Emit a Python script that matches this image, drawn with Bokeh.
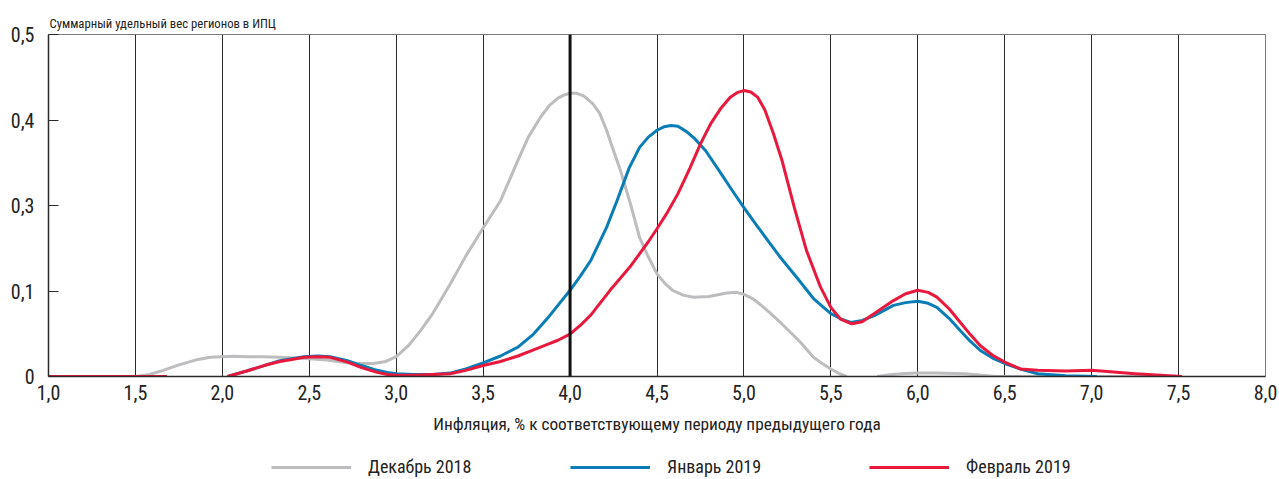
from bokeh.plotting import figure
from bokeh.layouts import column
from bokeh.models import Range1d, FixedTicker, Span, Legend, LegendItem
from bokeh.embed import file_html
from bokeh.resources import INLINE

nan = float("nan")

title_text = "Суммарный удельный вес регионов в ИПЦ"
x_label = "Инфляция, % к соответствующему периоду предыдущего года"

x_ticks = [1.0, 1.5, 2.0, 2.5, 3.0, 3.5, 4.0, 4.5, 5.0, 5.5, 6.0, 6.5, 7.0, 7.5, 8.0]
x_tick_labels = ["1,0", "1,5", "2,0", "2,5", "3,0", "3,5", "4,0", "4,5", "5,0",
                 "5,5", "6,0", "6,5", "7,0", "7,5", "8,0"]
y_ticks = [0, 0.125, 0.25, 0.375, 0.5]
y_tick_labels = ["0", "0,1", "0,3", "0,4", "0,5"]
target_inflation = 4.0

series_names = ["Декабрь 2018", "Январь 2019", "Февраль 2019"]

dec_x = [1.0, 1.5, 1.58, 1.66, 1.75, 1.86, 1.93, 2.0, 2.07, 2.14, 2.23, 2.33, 2.42,
         2.5, 2.6, 2.72, 2.8, 2.87, 2.94, 3.0, 3.07, 3.14, 3.21, 3.31, 3.4, 3.5,
         3.6, 3.7, 3.76, 3.83, 3.88, 3.93, 3.97, 4.0, 4.04, 4.08, 4.13, 4.17, 4.21,
         4.25, 4.29, 4.35, 4.4, 4.45, 4.5, 4.55, 4.59, 4.65, 4.71, 4.8, 4.9, 4.96,
         5.0, 5.05, 5.1, 5.15, 5.21, 5.27, 5.325, 5.4, 5.45, 5.5, 5.55, 5.59,
         nan, 5.766, 5.85, 5.93, 6.0, 6.1, 6.27, 6.45, 7.0, 7.5]
dec_y = [0.0, 0.0, 0.003, 0.009, 0.017, 0.025, 0.028, 0.029, 0.0295, 0.029, 0.029,
         0.028, 0.027, 0.026, 0.024, 0.020, 0.019, 0.019, 0.022, 0.029, 0.045,
         0.067, 0.092, 0.135, 0.176, 0.217, 0.257, 0.316, 0.35, 0.379, 0.396,
         0.407, 0.412, 0.414, 0.414, 0.41, 0.399, 0.385, 0.36, 0.33, 0.301, 0.25,
         0.203, 0.175, 0.15, 0.135, 0.126, 0.119, 0.116, 0.117, 0.122, 0.123,
         0.12, 0.114, 0.104, 0.093, 0.079, 0.064, 0.05, 0.028, 0.019, 0.011,
         0.004, 0.0,
         nan, 0.0, 0.003, 0.0045, 0.005, 0.005, 0.004, 0.0, 0.0, 0.0]

jan_x = [1.0, 1.68, nan, 2.03, 2.14, 2.24, 2.33, 2.4, 2.47, 2.55, 2.62, 2.72, 2.8,
         2.89, 2.95, 3.0, 3.1, 3.21, 3.31, 3.4, 3.5, 3.6, 3.7, 3.79, 3.87, 3.93,
         4.0, 4.06, 4.12, 4.21, 4.27, 4.34, 4.4, 4.45, 4.5, 4.54, 4.58, 4.62, 4.67,
         4.72, 4.78, 4.86, 4.93, 5.0, 5.07, 5.14, 5.21, 5.31, 5.4, 5.5, 5.56,
         5.615, 5.68, 5.75, 5.86, 5.93, 6.0, 6.06, 6.11, 6.18, 6.245, 6.3, 6.36,
         6.43, 6.5, 6.59, 6.69, 6.85, 7.03]
jan_y = [0.0, 0.0, nan, 0.0, 0.008, 0.016, 0.023, 0.026, 0.029, 0.030, 0.029,
         0.023, 0.016, 0.009, 0.006, 0.004, 0.003, 0.003, 0.005, 0.011, 0.020,
         0.030, 0.043, 0.062, 0.085, 0.104, 0.126, 0.147, 0.17, 0.218, 0.257,
         0.305, 0.335, 0.35, 0.36, 0.365, 0.367, 0.366, 0.358, 0.347, 0.33, 0.3,
         0.273, 0.247, 0.222, 0.198, 0.174, 0.143, 0.114, 0.092, 0.084, 0.079,
         0.082, 0.089, 0.104, 0.108, 0.11, 0.107, 0.101, 0.085, 0.067, 0.052,
         0.038, 0.027, 0.019, 0.011, 0.004, 0.001, 0.0]

feb_x = [1.0, 1.68, nan, 2.03, 2.14, 2.24, 2.33, 2.4, 2.47, 2.55, 2.62, 2.72, 2.8,
         2.89, 2.95, 3.0, 3.1, 3.21, 3.31, 3.4, 3.5, 3.6, 3.7, 3.79, 3.87, 3.93,
         4.0, 4.06, 4.12, 4.23, 4.35, 4.45, 4.5, 4.56, 4.62, 4.69, 4.75, 4.81,
         4.87, 4.92, 4.96, 5.0, 5.04, 5.08, 5.12, 5.17, 5.22, 5.29, 5.36, 5.44,
         5.5, 5.555, 5.62, 5.68, 5.75, 5.86, 5.93, 6.0, 6.06, 6.11, 6.18, 6.245,
         6.3, 6.36, 6.43, 6.5, 6.59, 6.69, 6.85, 7.0, 7.25, 7.52]
feb_y = [0.0, 0.0, nan, 0.0, 0.008, 0.016, 0.022, 0.025, 0.028, 0.029, 0.028,
         0.021, 0.013, 0.006, 0.003, 0.002, 0.002, 0.003, 0.004, 0.009, 0.016,
         0.022, 0.030, 0.039, 0.047, 0.053, 0.062, 0.075, 0.09, 0.126, 0.162,
         0.197, 0.216, 0.24, 0.267, 0.305, 0.34, 0.37, 0.393, 0.408, 0.415,
         0.418, 0.416, 0.408, 0.39, 0.355, 0.315, 0.247, 0.184, 0.131, 0.101,
         0.084, 0.077, 0.08, 0.092, 0.111, 0.121, 0.126, 0.123, 0.116, 0.099,
         0.079, 0.062, 0.045, 0.031, 0.021, 0.011, 0.009, 0.008, 0.009, 0.004,
         0.0]

series_x = [dec_x, jan_x, feb_x]
series_y = [dec_y, jan_y, feb_y]
colors = ["#bdbdbf", "#0a7db6", "#e8193c"]
FONT = "Roboto Condensed"
TEXT = "#222222"

p = figure(width=1279, height=440, output_backend="svg", toolbar_location=None,
           x_range=Range1d(1.0, 8.0), y_range=Range1d(0, 0.5),
           min_border_left=48, min_border_right=14, min_border_top=34,
           min_border_bottom=64)

p.title.text = title_text
p.title.align = "left"
p.title.text_font = FONT
p.title.text_font_size = "12.7px"
p.title.text_font_style = "normal"
p.title.text_color = TEXT
p.title.standoff = 7
p.title.offset = 1

p.outline_line_color = "#7a7a7a"
p.outline_line_width = 1

p.ygrid.grid_line_color = None
p.xgrid.ticker = FixedTicker(ticks=x_ticks)
p.xgrid.grid_line_color = "#2a2a2a"
p.xgrid.grid_line_width = 1

p.xaxis.ticker = FixedTicker(ticks=x_ticks)
p.xaxis.major_label_overrides = dict(zip(x_ticks, x_tick_labels))
p.xaxis.major_tick_line_color = None
p.xaxis.minor_tick_line_color = None
p.xaxis.axis_line_color = "#2a2a2a"
p.xaxis.axis_line_width = 1.5
p.xaxis.major_label_text_font = FONT
p.xaxis.major_label_text_font_size = "20px"
p.xaxis.major_label_text_color = TEXT
p.xaxis.major_label_standoff = 2
p.xaxis.axis_label = x_label
p.xaxis.axis_label_text_font = FONT
p.xaxis.axis_label_text_font_size = "17.3px"
p.xaxis.axis_label_text_font_style = "normal"
p.xaxis.axis_label_text_color = TEXT
p.xaxis.axis_label_standoff = 11

p.yaxis.ticker = FixedTicker(ticks=y_ticks)
p.yaxis.major_label_overrides = dict(zip(y_ticks, y_tick_labels))
p.yaxis.major_tick_in = 10
p.yaxis.major_tick_out = 0
p.yaxis.major_tick_line_color = "#2a2a2a"
p.yaxis.minor_tick_line_color = None
p.yaxis.axis_line_color = "#2a2a2a"
p.yaxis.axis_line_width = 1.5
p.yaxis.major_label_text_font = FONT
p.yaxis.major_label_text_font_size = "20px"
p.yaxis.major_label_text_color = TEXT
p.yaxis.major_label_standoff = 14

for xs, ys, c in zip(series_x, series_y, colors):
    p.line(xs, ys, line_color=c, line_width=3, line_join="round")

p.add_layout(Span(location=target_inflation, dimension="height",
                  line_color="#111111", line_width=3))

# legend strip below the chart: same series, drawn out of this strip's view
lg = figure(width=1279, height=39, output_backend="svg", toolbar_location=None,
            x_range=Range1d(1.0, 8.0), y_range=Range1d(5, 6),
            min_border_left=0, min_border_right=0, min_border_top=0,
            min_border_bottom=0, x_axis_location=None, y_axis_location=None)
lg.grid.grid_line_color = None
lg.outline_line_color = None
leg_renderers = [lg.line(xs, ys, line_color=c, line_width=3)
                 for xs, ys, c in zip(series_x, series_y, colors)]

legend = Legend(items=[LegendItem(label=n, renderers=[r])
                       for n, r in zip(series_names, leg_renderers)],
                orientation="horizontal", location=(223, 2),
                glyph_width=80, glyph_height=20, label_standoff=17,
                label_width=104, spacing=98, padding=0, margin=0,
                border_line_color=None, background_fill_alpha=0,
                label_text_font=FONT, label_text_font_size="18px",
                label_text_color=TEXT)
lg.add_layout(legend, "center")

open("out.html", "w").write(file_html(column(p, lg, spacing=0), INLINE))
